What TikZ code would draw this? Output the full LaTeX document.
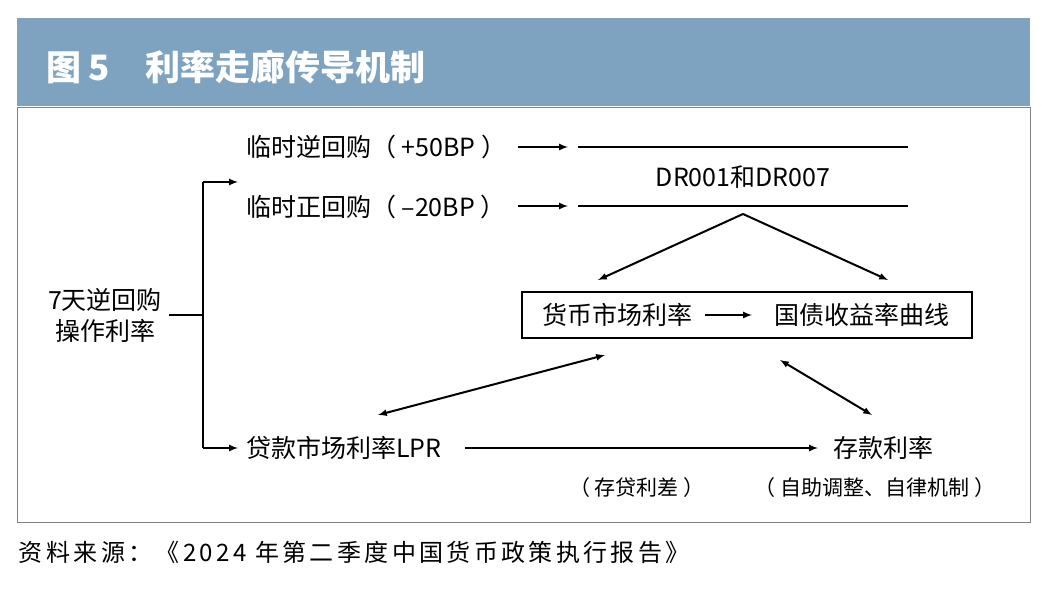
\documentclass[tikz,border=0pt]{standalone}
\usepackage{fontspec}
\setmainfont{Noto Sans CJK SC}
\newfontfamily\srcfont[LetterSpace=14]{Noto Sans CJK SC}
\usetikzlibrary{positioning}
\definecolor{bandblue}{RGB}{125,163,192}
\tikzset{
  lbl/.style = {font=\fontsize{25}{29}\selectfont, inner sep=0pt},
  note/.style = {font=\fontsize{21}{25}\selectfont, inner sep=0pt},
  arr/.style = {line width=2pt, -{latex[length=12pt,width=9pt]}},
  dbl/.style = {line width=2pt, {latex[length=12pt,width=9pt]}-{latex[length=12pt,width=9pt]}}
}
\usetikzlibrary{arrows.meta}
\begin{document}
\begin{tikzpicture}[x=1pt, y=-1pt, line width=2pt]
\useasboundingbox (0,0) rectangle (1052,591);
\fill[bandblue] (17,18) rectangle (1030,106);
\draw[gray, line width=1pt] (17,108) rectangle (1030,522);
\node[anchor=west, text=white, font=\fontsize{35}{40}\selectfont\bfseries, inner sep=0pt] (title) at (45,67) {图 5\quad 利率走廊传导机制};
\node[anchor=west, font=\fontsize{24}{28}\selectfont\srcfont, inner sep=0pt] (src) at (18,552) {资料来源：《2024 年第二季度中国货币政策执行报告》};
% left part
\node[lbl, align=center] (seven) at (105,315) {7天逆回购\\[2pt]操作利率};
\coordinate (b0) at (203,315);
\coordinate (btop) at (203,182);
\coordinate (bbot) at (203,448);
\draw (seven.east) ++(6,0) -- (b0);
\draw (btop) -- (bbot);
\draw[arr] (btop) -- (238,182);
\draw[arr] (bbot) -- (238,448);
% repo rows
\node[lbl, anchor=west] (rev) at (245,147) {临时逆回购（ +50BP ）};
\node[lbl, anchor=west] (fwd) at (245,207) {临时正回购（ –20BP ）};
\coordinate (up1) at (578,147);
\coordinate (up2) at (908,147);
\coordinate (lo1) at (578,206);
\coordinate (lo2) at (908,206);
\draw[arr] (518,147) -- (568,147);
\draw[arr] (518,206) -- (568,206);
\draw (up1) -- (up2);
\draw (lo1) -- (lo2);
\node[lbl] (dr) at (743,177) {DR001和DR007};
\coordinate (apex) at (743,214);
% middle box
\draw[line width=2.5pt] (522,292) rectangle (972,338);
\node[lbl] (mm) at (617,315) {货币市场利率};
\node[lbl] (gz) at (862,315) {国债收益率曲线};
\draw[arr] (705,315) -- (752,315);
\draw[arr] (apex) -- (598,280);
\draw[arr] (apex) -- (888,280);
% bottom row
\node[lbl, anchor=west] (lpr) at (245,448) {贷款市场利率LPR};
\node[lbl] (dep) at (883,448) {存款利率};
\draw[arr] (465,448) -- (818,448);
\draw[dbl] (605,355) -- (378,415);
\draw[dbl] (780,360) -- (872,415);
\node[note] (spread) at (637,488) {（ 存贷利差 ）};
\node[note] (self) at (875,488) {（ 自助调整、自律机制 ）};
\end{tikzpicture}
\end{document}
